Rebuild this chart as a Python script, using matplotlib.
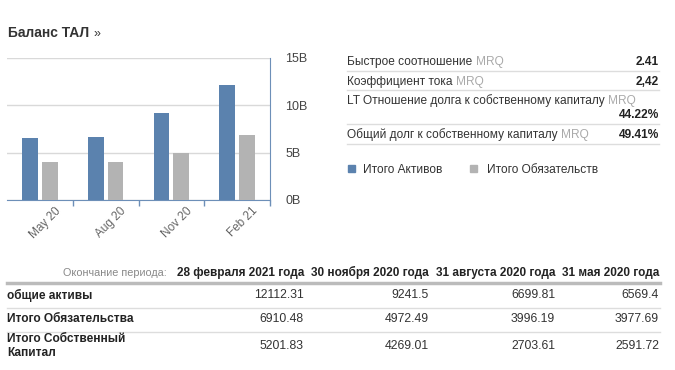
import numpy as np
import matplotlib.pyplot as plt
from matplotlib.transforms import Affine2D
from matplotlib.lines import Line2D
from matplotlib.patches import Rectangle

plt.rcParams['font.family'] = ['Liberation Sans', 'DejaVu Sans']

# data (millions)
periods = ['May 20', 'Aug 20', 'Nov 20', 'Feb 21']
total_assets = [6569.4, 6699.81, 9241.5, 12112.31]
total_liab = [3977.69, 3996.19, 4972.49, 6910.48]
total_equity = [2591.72, 2703.61, 4269.01, 5201.83]
y_ticks = [0, 5, 10, 15]
y_tick_labels = ['0B', '5B', '10B', '15B']

ratio_labels = ['Быстрое соотношение', 'Коэффициент тока',
                'LT Отношение долга к собственному капиталу',
                'Общий долг к собственному капиталу']
ratio_values = ['2.41', '2,42', '44.22%', '49.41%']

legend_labels = ['Итого Активов', 'Итого Обязательств']

table_dates = ['28 февраля 2021 года', '30 ноября 2020 года',
               '31 августа 2020 года', '31 мая 2020 года']
table_rows = ['общие активы', 'Итого Обязательства', 'Итого Собственный\nКапитал']
table_vals = [['12112.31', '9241.5', '6699.81', '6569.4'],
              ['6910.48', '4972.49', '3996.19', '3977.69'],
              ['5201.83', '4269.01', '2703.61', '2591.72']]

BLUE = '#5b82ae'
GRAY = '#b3b3b3'
W, H = 675, 370
FS = 8.6

fig = plt.figure(figsize=(W / 100, H / 100), dpi=100)
# pixel coordinates, origin top-left
T = Affine2D().scale(1 / W, -1 / H).translate(0, 1) + fig.transFigure

fig.text(8, 33, 'Баланс ТАЛ', transform=T, fontsize=10, fontweight='bold',
         color='#333333', va='center')
fig.text(94, 34, '»', transform=T, fontsize=9, color='#333333', va='center')

# bar chart
ax = fig.add_axes([7 / W, 1 - 200 / H, 263 / W, 142 / H])
x = np.arange(len(periods))
ax.bar(x - 0.15, np.array(total_assets) / 1000, width=0.24, color=BLUE, zorder=3)
ax.bar(x + 0.15, np.array(total_liab) / 1000, width=0.24, color=GRAY, zorder=3)
ax.set_xlim(-0.5, 3.5)
ax.set_ylim(0, 15)
ax.set_yticks(y_ticks)
ax.set_yticklabels(y_tick_labels)
ax.yaxis.tick_right()
ax.tick_params(axis='y', length=0, pad=11, labelsize=9, labelcolor='#444444')
ax.grid(axis='y', color='#d9d9d9', lw=1, zorder=0)
ax.set_xticks(np.arange(0.5, 4, 1.0))
ax.set_xticklabels([])
ax.tick_params(axis='x', length=4, color='#6d8fb8', width=1)
for s in ['top', 'left']:
    ax.spines[s].set_visible(False)
for s in ['right', 'bottom']:
    ax.spines[s].set_color('#6d8fb8')
for i, p in enumerate(periods):
    ax.text(i + 0.22, -0.035, p, transform=ax.get_xaxis_transform(), rotation=45,
            rotation_mode='anchor', ha='right', va='top', fontsize=8.5,
            color='#666666')

# ratios panel
row_y = [65, 85, 104, 138]
val_y = [65, 85, 118, 138]
line_y = [71, 90, 124, 144]
for lab, val, ty, vy, ly in zip(ratio_labels, ratio_values, row_y, val_y, line_y):
    t = fig.text(347, ty, lab, transform=T, fontsize=FS, color='#333333', va='baseline')
    ax.annotate('MRQ', xy=(1, 0), xycoords=t, xytext=(2.5, 0),
                textcoords='offset points', fontsize=FS, color='#aaaaaa',
                va='bottom', annotation_clip=False)
    fig.text(659, vy, val, transform=T, fontsize=FS, fontweight='bold',
             color='#222222', ha='right', va='baseline')
    fig.add_artist(Line2D([347, 659], [ly, ly], transform=T, color='#dddddd', lw=1))

# legend
for lab, col, sx, tx in zip(legend_labels, [BLUE, GRAY], [348, 470], [363, 487]):
    fig.add_artist(Rectangle((sx, 165), 7, 7, transform=T, color=col))
    fig.text(tx, 173, lab, transform=T, fontsize=FS, color='#333333', va='baseline')

# table
col_right = [304, 429, 555, 659]
fig.text(167, 276, 'Окончание периода:', transform=T, fontsize=7.8, color='#888888',
         ha='right', va='baseline')
for d, cx in zip(table_dates, col_right):
    fig.text(cx, 276, d, transform=T, fontsize=8.5, fontweight='bold', color='#222222',
             ha='right', va='baseline')
fig.add_artist(Line2D([7, 660], [283, 283], transform=T, color='#bbbbbb', lw=2.5))
tr_y = [295, 319, 346]
for name, vals, ry in zip(table_rows, table_vals, tr_y):
    fig.text(7, ry, name, transform=T, fontsize=FS, fontweight='bold', color='#222222',
             va='center', linespacing=1.2)
    for v, cx in zip(vals, col_right):
        fig.text(cx, ry, v, transform=T, fontsize=8.8, color='#333333',
                 ha='right', va='center')
for ly in [308, 332]:
    fig.add_artist(Line2D([7, 660], [ly, ly], transform=T, color='#dddddd', lw=1))

fig.savefig('out.png', dpi=100)
